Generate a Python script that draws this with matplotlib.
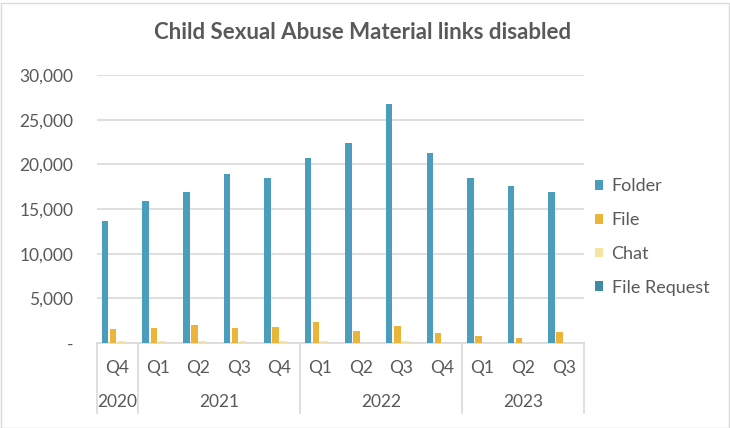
import numpy as np
import matplotlib.pyplot as plt
from matplotlib.patches import Rectangle
from matplotlib.ticker import FuncFormatter
import matplotlib.transforms as mtransforms

quarters = ["Q4", "Q1", "Q2", "Q3", "Q4", "Q1", "Q2", "Q3", "Q4", "Q1", "Q2", "Q3"]
years = ["2020", "2021", "2022", "2023"]
year_counts = [1, 4, 4, 3]

folder = [13700, 15900, 16900, 18900, 18500, 20700, 22400, 26800, 21300, 18500, 17600, 16900]
file_ = [1550, 1700, 2000, 1700, 1800, 2350, 1300, 1900, 1100, 750, 550, 1250]
chat = [180, 180, 180, 180, 180, 180, 0, 180, 0, 0, 0, 0]
file_request = [10, 10, 10, 10, 10, 10, 10, 10, 10, 10, 10, 10]

series = [("Folder", folder, "#4A9EBC"),
          ("File", file_, "#EBB53A"),
          ("Chat", chat, "#F7E4A2"),
          ("File Request", file_request, "#3F8BA6")]

plt.rcParams["font.family"] = ["Lato", "DejaVu Sans"]
text_color = "#595959"
grid_color = "#D9D9D9"
fs = 12.5

fig = plt.figure(figsize=(7.3, 4.28), dpi=100)
ax = fig.add_axes([97 / 730, 85 / 428, 487 / 730, 268 / 428])

x = np.arange(len(quarters))
width = 0.16
offsets = [-0.3, -0.1, 0.1, 0.3]
for (name, vals, color), off in zip(series, offsets):
    ax.bar(x + off, vals, width, color=color, label=name, zorder=3)

ax.set_xlim(-0.5, len(quarters) - 0.5)
ax.set_ylim(0, 30000)
ax.set_yticks(np.arange(0, 30001, 5000))
ax.yaxis.set_major_formatter(FuncFormatter(lambda v, p: "-" if v == 0 else f"{int(v):,}"))
ax.grid(axis="y", color=grid_color, linewidth=1.2, zorder=0)
for s in ["left", "right", "top"]:
    ax.spines[s].set_visible(False)
ax.spines["bottom"].set_color(grid_color)
ax.spines["bottom"].set_linewidth(1.2)
ax.tick_params(axis="y", length=0, pad=17, labelsize=fs, labelcolor=text_color)
ax.tick_params(axis="x", length=0, pad=12, labelsize=fs, labelcolor=text_color)
ax.set_xticks(x)
ax.set_xticklabels(quarters)

# year row and separators
trans = mtransforms.blended_transform_factory(ax.transData, ax.transAxes)
line_bottom = -(413 - 343) / 268
start = -0.5
bounds = [start]
for yr, n in zip(years, year_counts):
    ax.text(start + n / 2, -(402 - 343) / 268, yr, transform=trans, ha="center", va="center",
            fontsize=fs, color=text_color)
    start += n
    bounds.append(start)
for b in bounds:
    ax.plot([b, b], [0, line_bottom], transform=trans, color=grid_color, linewidth=1.2, clip_on=False)

ax.set_title("Child Sexual Abuse Material links disabled", fontsize=16, fontweight="bold",
             color=text_color, x=(363 - 97) / 487, y=1.0, pad=26)

leg = ax.legend(loc="center left", bbox_to_anchor=(579 / 730, (428 - 237) / 428),
                bbox_transform=fig.transFigure, frameon=False, fontsize=13,
                handlelength=0.45, handleheight=0.45, handletextpad=0.45, labelspacing=0.98)
for t in leg.get_texts():
    t.set_color(text_color)

fig.patches.append(Rectangle((0.5 / 730, 0.5 / 428), 728 / 730, 425 / 428, transform=fig.transFigure,
                             fill=False, edgecolor=grid_color, linewidth=1))

fig.savefig("out.png", dpi=100)
